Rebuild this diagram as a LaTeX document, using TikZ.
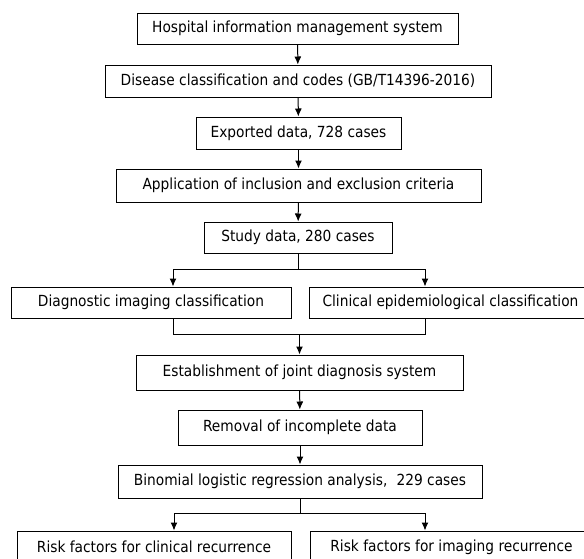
\documentclass[tikz,border=0pt]{standalone}
\usepackage{fontspec}
\setmainfont{DejaVu Sans Condensed}
\usetikzlibrary{arrows.meta}
\usetikzlibrary{calc}

\begin{document}
\begin{tikzpicture}[x=1pt,y=-1pt,>/.tip={Latex[length=8pt,width=7pt]},
	box/.style={draw,line width=1pt,inner sep=0pt,font=\fontsize{15.3}{17}\selectfont},
	link/.style={line width=1pt}]
	\clip (0,0) rectangle (584,558);
	\draw (297.5,28.5) node (hims) [box,minimum width=321pt,minimum height=31pt] {Hospital information management system};
	\draw (298,81) node (codes) [box,minimum width=386pt,minimum height=32pt] {Disease classification and codes (GB/T14396-2016)};
	\draw (298.5,133) node (export) [box,minimum width=205pt,minimum height=32pt] {Exported data, 728 cases};
	\draw (298.5,185.5) node (crit) [box,minimum width=365pt,minimum height=33pt] {Application of inclusion and exclusion criteria};
	\draw (298,237.5) node (study) [box,minimum width=188pt,minimum height=31pt] {Study data, 280 cases};
	\draw (151,302.5) node (imag) [box,minimum width=280pt,minimum height=31pt] {Diagnostic imaging classification};
	\draw (450.5,302.5) node (clin) [box,minimum width=283pt,minimum height=31pt] {Clinical epidemiological classification};
	\draw (299.5,372.5) node (joint) [box,minimum width=327pt,minimum height=35pt] {Establishment of joint diagnosis system};
	\draw (300,427.5) node (remov) [box,minimum width=244pt,minimum height=35pt] {Removal of incomplete data};
	\draw (300,481.5) node (binom) [box,minimum width=364pt,minimum height=33pt] {Binomial logistic regression analysis,\hspace{0.6em}229 cases};
	\draw (154,547) node (riskC) [box,minimum width=274pt,minimum height=32pt] {Risk factors for clinical recurrence};
	\draw (451.5,547) node (riskI) [box,minimum width=283pt,minimum height=32pt] {Risk factors for imaging recurrence};
	
	\coordinate (sL) at (173,269);
	\coordinate (sR) at (425,269);
	\coordinate (mL) at (173,334);
	\coordinate (mR) at (425,334);
	\coordinate (bL) at (174,513);
	\coordinate (bR) at (425,513);
	
	\draw[->,link] (hims) -- (codes);
	\draw[->,link] (codes) -- (export);
	\draw[->,link] (export) -- (crit);
	\draw[->,link] (crit) -- (study);
	\draw[->,link] (study.south) |- (sL) -- (sL |- imag.north);
	\draw[->,link] (study.south) |- (sR) -- (sR |- clin.north);
	\draw[link] (mL |- imag.south) -- (mL) -- (mR) -- (mR |- clin.south);
	\draw[->,link] (joint.north |- mL) -- (joint.north);
	\draw[->,link] (joint) -- (remov);
	\draw[->,link] (remov) -- (binom);
	\draw[->,link] (binom.south) |- (bL) -- (bL |- riskC.north);
	\draw[->,link] (binom.south) |- (bR) -- (bR |- riskI.north);
\end{tikzpicture}
\end{document}
